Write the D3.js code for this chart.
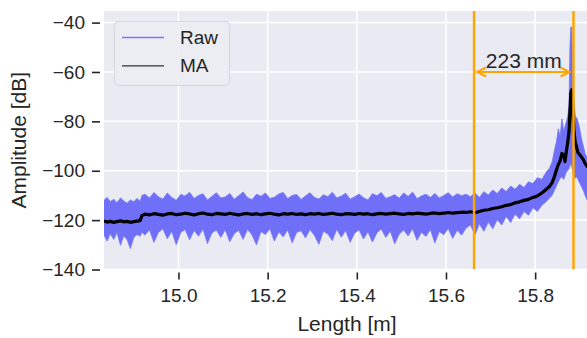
<!DOCTYPE html>
<html lang="en">
<head>
    <meta charset="UTF-8">
    <title>d3.js</title>
    <script src="https://cdn.jsdelivr.net/npm/d3@7"></script>
    <style>
        body { margin: 0; background: #ffffff; }
        text { font-family: "Liberation Sans", Arial, sans-serif; fill: #262626; }
    </style>
</head>
<body>
<div id="output"></div>

<script>

// lengths in metres
var lengthM = [
    14.833, 14.84, 14.847, 14.855, 14.862, 14.87, 14.877, 14.885, 14.892, 14.9, 14.907, 14.914, 14.918,
    14.925, 14.935, 14.945, 14.955, 14.965, 14.975, 14.985, 14.995, 15.005, 15.015,
    15.025, 15.035, 15.045, 15.055, 15.065, 15.075, 15.085, 15.095, 15.105, 15.115,
    15.125, 15.135, 15.145, 15.155, 15.165, 15.175, 15.185, 15.195, 15.205, 15.215,
    15.225, 15.235, 15.245, 15.255, 15.265, 15.275, 15.285, 15.295, 15.305, 15.315,
    15.325, 15.335, 15.345, 15.355, 15.365, 15.375, 15.385, 15.395, 15.405, 15.415,
    15.425, 15.435, 15.445, 15.455, 15.465, 15.475, 15.485, 15.495, 15.505, 15.515,
    15.525, 15.535, 15.545, 15.555, 15.565, 15.575, 15.585, 15.595, 15.605, 15.615,
    15.625, 15.635, 15.645,
    15.655, 15.665, 15.675, 15.685, 15.695, 15.705, 15.715, 15.725, 15.735, 15.745,
    15.755, 15.765, 15.775, 15.785, 15.795, 15.805, 15.815, 15.825,
    15.832, 15.838, 15.843, 15.848, 15.852, 15.856, 15.86, 15.864, 15.867, 15.87,
    15.873, 15.876, 15.878, 15.88, 15.882, 15.884, 15.887, 15.89, 15.893, 15.896,
    15.9, 15.904, 15.908, 15.912, 15.917, 15.923
];

// raw trace: upper and lower extent of the noise (dB)
var rawUpper = [
    -112, -110.8, -112.5, -111.5, -113, -111, -112.2, -113.2, -111.8, -112.6, -111.2, -112.4, -110,
    -109.5, -111, -108.8, -110.5, -111.5, -109, -110.8, -112, -109.6, -110.2,
    -108.7, -111.2, -110, -109.3, -111.8, -110.4, -108.9, -111, -110.6, -109.2,
    -111.5, -110.1, -108.6, -110.9, -111.7, -109.5, -110.3, -109, -111.2, -110.7,
    -109.4, -108.8, -111.3, -110, -109.6, -111.6, -110.2, -108.9, -110.8, -111.4,
    -109.7, -110.5, -108.7, -111, -110.3, -109.1, -111.5, -110.6, -109.4, -110.9,
    -111.8, -109.3, -110.1, -108.8, -111.2, -110.5, -109.7, -111.1, -109, -110.4,
    -108.6, -111.3, -110.2, -109.5, -110.8, -109.2, -111, -110, -108.9, -110.6,
    -109.3, -110.1, -109.5,
    -110.5, -109, -110.8, -108.5, -109.8, -107.8, -109.2, -107, -108.4, -106.2,
    -107.5, -105.5, -106.8, -104.5, -105.2, -102.8, -103.5, -100.5,
    -99, -96.5, -92, -88, -83, -86, -79, -84, -82, -80,
    -78, -74, -50, -42, -41.7, -58, -72, -78, -78.5, -80,
    -83, -87, -90, -93, -95, -96
];

var rawLower = [
    -126, -128.5, -125.5, -127.8, -125, -130.2, -126.4, -128, -131.5, -127, -125.8, -126.5, -125,
    -126, -124, -129, -125, -123.5, -127.5, -124.5, -130, -125, -123.8,
    -128, -124.2, -126.5, -123.6, -129.5, -125.2, -124, -127, -123.9, -128.8,
    -125.5, -124.1, -127.8, -123.7, -126, -130, -124.6, -125.8, -123.5, -128.5,
    -124.8, -126.8, -123.9, -129.2, -125, -124.3, -127.2, -123.8, -126.2, -129.8,
    -124.5, -125.6, -128.3, -123.7, -126.9, -124.2, -129, -125.3, -123.9, -127.6,
    -124.7, -128.9, -125.1, -123.6, -127, -124.4, -129.6, -125.7, -124, -126.4,
    -123.5, -128.2, -124.9, -126.6, -123.8, -129.3, -124.6, -125.9, -123.4, -127.4,
    -124.1, -126.1, -123.2,
    -122, -126, -121.5, -124.5, -120.8, -123.5, -119.8, -122, -118.5, -121,
    -117.5, -119.5, -116.5, -118, -115, -116.5, -114, -112.5,
    -111, -110, -108, -106, -104.5, -103, -102.5, -103.5, -102, -100.5,
    -100, -99, -98, -97, -98, -100, -102, -103, -102.5, -103.5,
    -105, -106.5, -108, -110, -112, -113
];

// moving average (dB)
var maValues = [
    -120.4, -120.8, -120.5, -120.9, -120.6, -120.3, -120.7, -120.5, -120.9, -120.6, -120.4, -120.2, -118.2,
    -117.6, -117.9, -117.4, -117.7, -118, -117.5, -117.3, -117.8, -117.6, -117.2,
    -117.5, -117.9, -117.4, -117.1, -117.6, -117.8, -117.3, -117.5, -117.7, -117.2,
    -117.6, -117.9, -117.5, -117.3, -117.7, -117.4, -117.8, -117.5, -117.2, -117.6,
    -117.9, -117.4, -117.6, -117.3, -117.7, -117.5, -117.8, -117.4, -117.6, -117.3,
    -117.7, -117.5, -117.2, -117.6, -117.8, -117.4, -117.5, -117.7, -117.3, -117.6,
    -117.4, -117.8, -117.5, -117.3, -117.6, -117.4, -117.2, -117.5, -117.7, -117.3,
    -117.5, -117.2, -117.4, -117.6, -117.3, -117.1, -117.4, -117.2, -116.9, -117.2,
    -117, -116.8, -116.9,
    -116.6, -117, -116.5, -116, -115.8, -115.3, -115, -114.6, -114, -113.7,
    -113, -112.6, -112, -111.6, -110.8, -110.2, -109, -107.5,
    -106.4, -104.8, -102.5, -99.5, -97.5, -96, -93, -93.5, -96.3, -92,
    -88.6, -84, -76, -68.5, -67.2, -74, -84, -88.6, -90.5, -92.7,
    -93.5, -94.5, -95.5, -97, -98.3, -99
];

var xTicks = [15.0, 15.2, 15.4, 15.6, 15.8];
var yTicks = [-140, -120, -100, -80, -60, -40];
var markers = [15.663, 15.886];
var markerLabel = "223 mm";
var legendNames = ["Raw", "MA"];

var w = 587;
var h = 338;
var mLeft = 104, mTop = 11, mRight = 590, mBottom = 269.5;

var svg = d3.select("#output")
    .append("svg")
    .attr("width", w)
    .attr("height", h);

var x = d3.scaleLinear().domain([14.833, 15.923]).range([mLeft, mRight]);
var y = d3.scaleLinear().domain([-140, -35.3]).range([mBottom, mTop]);

svg.append("defs").append("clipPath").attr("id", "plot")
    .append("rect")
    .attr("x", mLeft).attr("y", mTop)
    .attr("width", w - mLeft).attr("height", mBottom - mTop);

svg.append("rect")
    .attr("x", mLeft).attr("y", mTop)
    .attr("width", w - mLeft).attr("height", mBottom - mTop)
    .attr("fill", "#eaeaf2");

// grid
svg.selectAll(".vgrid").data(xTicks).enter().append("line")
    .attr("x1", function (d) { return x(d); }).attr("x2", function (d) { return x(d); })
    .attr("y1", mTop).attr("y2", mBottom)
    .attr("stroke", "#ffffff").attr("stroke-width", 1.5);
svg.selectAll(".hgrid").data(yTicks).enter().append("line")
    .attr("x1", mLeft).attr("x2", w)
    .attr("y1", function (d) { return y(d); }).attr("y2", function (d) { return y(d); })
    .attr("stroke", "#ffffff").attr("stroke-width", 1.5);

// axes
var xAxis = svg.append("g")
    .attr("transform", "translate(0," + (mBottom + 3) + ")")
    .call(d3.axisBottom(x).tickValues(xTicks).tickFormat(d3.format(".1f")).tickSize(7).tickPadding(9));
var yAxis = svg.append("g")
    .attr("transform", "translate(" + (mLeft - 4) + ",0)")
    .call(d3.axisLeft(y).tickValues(yTicks).tickFormat(function (d) { return d3.format("d")(d).replace("-", "\u2212"); }).tickSize(8).tickPadding(7));

[xAxis, yAxis].forEach(function (g) {
    g.select(".domain").remove();
    g.selectAll(".tick line").attr("stroke", "#262626").attr("stroke-width", 1.6);
    g.selectAll(".tick text").attr("fill", "#262626")
        .style("font-family", "'Liberation Sans', Arial, sans-serif")
        .style("font-size", "19px");
});

svg.append("text")
    .attr("x", (mLeft + mRight) / 2).attr("y", 331)
    .attr("text-anchor", "middle")
    .style("font-size", "21px")
    .text("Length [m]");

svg.append("text")
    .attr("transform", "translate(26," + ((mTop + mBottom) / 2) + ") rotate(-90)")
    .attr("text-anchor", "middle")
    .style("font-size", "21px")
    .text("Amplitude [dB]");

// data
var rows = lengthM.map(function (d, i) {
    return { len: d, hi: rawUpper[i], lo: rawLower[i], ma: maValues[i] };
});

var plot = svg.append("g").attr("clip-path", "url(#plot)");

var rawArea = d3.area()
    .x(function (d) { return x(d.len); })
    .y0(function (d) { return y(d.lo); })
    .y1(function (d) { return y(d.hi); });

plot.append("path")
    .datum(rows)
    .attr("d", rawArea)
    .attr("fill", "#6f6ff7")
    .attr("stroke", "#7676f8")
    .attr("stroke-width", 0.8);

var maLine = d3.line()
    .x(function (d) { return x(d.len); })
    .y(function (d) { return y(d.ma); });

plot.append("path")
    .datum(rows)
    .attr("d", maLine)
    .attr("fill", "none")
    .attr("stroke", "#000000")
    .attr("stroke-width", 3.2)
    .attr("stroke-linejoin", "round");

// markers
plot.selectAll(".marker").data(markers).enter().append("line")
    .attr("x1", function (d) { return x(d); }).attr("x2", function (d) { return x(d); })
    .attr("y1", mTop).attr("y2", mBottom)
    .attr("stroke", "#ffa500").attr("stroke-width", 2.5);

var ay = y(-60);
var ax1 = x(markers[0]) + 3, ax2 = x(markers[1]) - 4;
plot.append("line")
    .attr("x1", ax1).attr("x2", ax2).attr("y1", ay).attr("y2", ay)
    .attr("stroke", "#ffa500").attr("stroke-width", 2);
plot.append("path")
    .attr("d", "M" + (ax1 + 9) + "," + (ay - 4.5) + "L" + ax1 + "," + ay + "L" + (ax1 + 9) + "," + (ay + 4.5) +
        "M" + (ax2 - 9) + "," + (ay - 4.5) + "L" + ax2 + "," + ay + "L" + (ax2 - 9) + "," + (ay + 4.5))
    .attr("fill", "none").attr("stroke", "#ffa500").attr("stroke-width", 2);

svg.append("text")
    .attr("x", (x(markers[0]) + x(markers[1])) / 2).attr("y", 68)
    .attr("text-anchor", "middle")
    .style("font-size", "21px")
    .text(markerLabel);

// legend
var legend = svg.append("g");
legend.append("rect")
    .attr("x", 114.5).attr("y", 21.5).attr("width", 115).attr("height", 64).attr("rx", 4)
    .attr("fill", "#ececf3").attr("fill-opacity", 0.9)
    .attr("stroke", "#d6d6dd").attr("stroke-width", 1);
var legendColors = ["#7878ff", "#333333"];
legendNames.forEach(function (name, i) {
    var ly = 37.5 + i * 28.3;
    legend.append("line")
        .attr("x1", 122).attr("x2", 164).attr("y1", ly).attr("y2", ly)
        .attr("stroke", legendColors[i]).attr("stroke-width", 1.3);
    legend.append("text")
        .attr("x", 180).attr("y", ly + 6.5)
        .style("font-size", "19px")
        .text(name);
});

</script>

</body>
</html>
